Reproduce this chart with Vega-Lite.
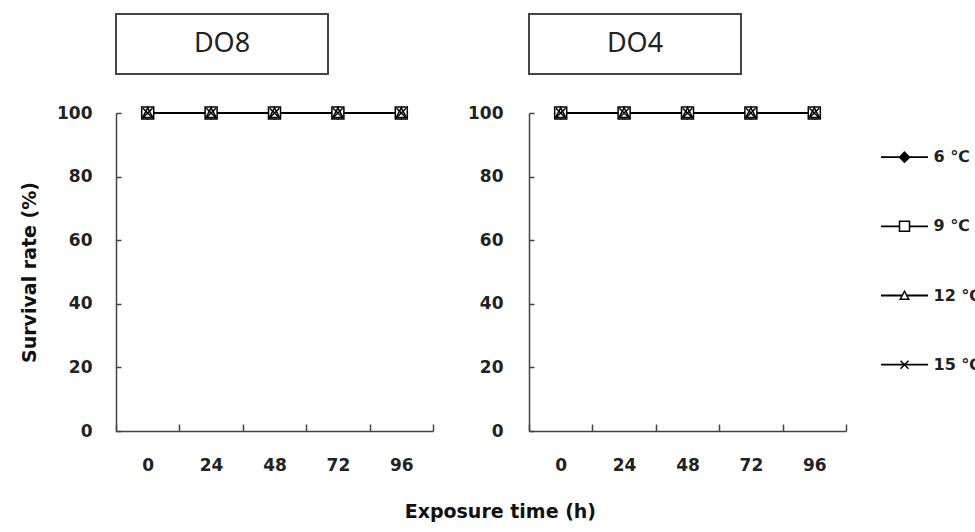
{
  "$schema": "https://vega.github.io/schema/vega-lite/v6.json",
  "padding": {"left": 20, "top": 13, "right": 5, "bottom": 5},
  "background": "white",
  "config": {
    "view": {"stroke": null},
    "font": "DejaVu Sans",
    "axis": {"labelFont": "DejaVu Sans", "labelFontWeight": "bold", "labelFontSize": 17, "labelColor": "#222", "titleFont": "DejaVu Sans", "titleFontWeight": "bold", "titleFontSize": 19, "titleColor": "#111", "domainColor": "#444", "domainWidth": 1.5, "tickColor": "#444", "tickWidth": 1.5, "grid": false}
  },
  "datasets": {
    "d": [
      {"panel": "DO8", "time": 0, "temp": "6 ℃", "survival": 100},
      {"panel": "DO8", "time": 0, "temp": "9 ℃", "survival": 100},
      {"panel": "DO8", "time": 0, "temp": "12 ℃", "survival": 100},
      {"panel": "DO8", "time": 0, "temp": "15 ℃", "survival": 100},
      {"panel": "DO8", "time": 24, "temp": "6 ℃", "survival": 100},
      {"panel": "DO8", "time": 24, "temp": "9 ℃", "survival": 100},
      {"panel": "DO8", "time": 24, "temp": "12 ℃", "survival": 100},
      {"panel": "DO8", "time": 24, "temp": "15 ℃", "survival": 100},
      {"panel": "DO8", "time": 48, "temp": "6 ℃", "survival": 100},
      {"panel": "DO8", "time": 48, "temp": "9 ℃", "survival": 100},
      {"panel": "DO8", "time": 48, "temp": "12 ℃", "survival": 100},
      {"panel": "DO8", "time": 48, "temp": "15 ℃", "survival": 100},
      {"panel": "DO8", "time": 72, "temp": "6 ℃", "survival": 100},
      {"panel": "DO8", "time": 72, "temp": "9 ℃", "survival": 100},
      {"panel": "DO8", "time": 72, "temp": "12 ℃", "survival": 100},
      {"panel": "DO8", "time": 72, "temp": "15 ℃", "survival": 100},
      {"panel": "DO8", "time": 96, "temp": "6 ℃", "survival": 100},
      {"panel": "DO8", "time": 96, "temp": "9 ℃", "survival": 100},
      {"panel": "DO8", "time": 96, "temp": "12 ℃", "survival": 100},
      {"panel": "DO8", "time": 96, "temp": "15 ℃", "survival": 100},
      {"panel": "DO4", "time": 0, "temp": "6 ℃", "survival": 100},
      {"panel": "DO4", "time": 0, "temp": "9 ℃", "survival": 100},
      {"panel": "DO4", "time": 0, "temp": "12 ℃", "survival": 100},
      {"panel": "DO4", "time": 0, "temp": "15 ℃", "survival": 100},
      {"panel": "DO4", "time": 24, "temp": "6 ℃", "survival": 100},
      {"panel": "DO4", "time": 24, "temp": "9 ℃", "survival": 100},
      {"panel": "DO4", "time": 24, "temp": "12 ℃", "survival": 100},
      {"panel": "DO4", "time": 24, "temp": "15 ℃", "survival": 100},
      {"panel": "DO4", "time": 48, "temp": "6 ℃", "survival": 100},
      {"panel": "DO4", "time": 48, "temp": "9 ℃", "survival": 100},
      {"panel": "DO4", "time": 48, "temp": "12 ℃", "survival": 100},
      {"panel": "DO4", "time": 48, "temp": "15 ℃", "survival": 100},
      {"panel": "DO4", "time": 72, "temp": "6 ℃", "survival": 100},
      {"panel": "DO4", "time": 72, "temp": "9 ℃", "survival": 100},
      {"panel": "DO4", "time": 72, "temp": "12 ℃", "survival": 100},
      {"panel": "DO4", "time": 72, "temp": "15 ℃", "survival": 100},
      {"panel": "DO4", "time": 96, "temp": "6 ℃", "survival": 100},
      {"panel": "DO4", "time": 96, "temp": "9 ℃", "survival": 100},
      {"panel": "DO4", "time": 96, "temp": "12 ℃", "survival": 100},
      {"panel": "DO4", "time": 96, "temp": "15 ℃", "survival": 100}
    ]
  },
  "title": {"text": "Exposure time (h)", "orient": "bottom", "anchor": "middle", "font": "DejaVu Sans", "fontSize": 19, "fontWeight": "bold", "color": "#111", "offset": 30},
  "spacing": 33,
  "hconcat": [
    {
      "bounds": "flush",
      "spacing": 39,
      "vconcat": [
        {
          "width": 212, "height": 60,
          "view": {"stroke": "#444", "strokeWidth": 2},
          "data": {"name": "d"},
          "transform": [{"filter": "datum.panel === 'DO8' && datum.time === 0 && datum.temp === '6 ℃'"}],
          "mark": {"type": "text", "font": "Noto Sans", "fontSize": 27, "color": "#222", "align": "center", "baseline": "middle"},
          "encoding": {"text": {"field": "panel"}}
        },
        {
          "width": 317, "height": 318,
          "data": {"name": "d"},
          "transform": [{"filter": "datum.panel === 'DO8'"}],
          "encoding": {
            "x": {"field": "time", "type": "ordinal", "scale": {"type": "band", "paddingInner": 0, "paddingOuter": 0}, "axis": {"title": null, "labelAngle": 0, "tickBand": "extent", "tickSize": -7, "labelPadding": 33}},
            "y": {"field": "survival", "type": "quantitative", "scale": {"domain": [0, 100], "nice": false}, "axis": {"title": "Survival rate (%)", "values": [0, 20, 40, 60, 80, 100], "tickSize": -5, "labelPadding": 29, "titlePadding": 17}}
          },
          "layer": [
            {"mark": {"type": "line", "color": "black", "strokeWidth": 2}, "encoding": {"detail": {"field": "temp"}}},
            {
              "mark": {"type": "point", "filled": false, "size": 144, "strokeWidth": 1.5, "stroke": "black", "opacity": 1},
              "encoding": {
                "shape": {"field": "temp", "type": "nominal",
                  "scale": {"domain": ["6 ℃", "9 ℃", "12 ℃", "15 ℃"], "range": ["M0,-1L1,0L0,1L-1,0Z", "M-1,-1H1V1H-1Z", "M0,-0.85L0.85,0.75H-0.85Z", "M-0.8,-0.8L0.8,0.8M0.8,-0.8L-0.8,0.8"]},
                  "legend": null},
                "fill": {"field": "temp", "type": "nominal", "scale": {"domain": ["6 ℃", "9 ℃", "12 ℃", "15 ℃"], "range": ["black", "white", "white", "transparent"]}, "legend": null}
              }
            }
          ]
        }
      ]
    },
    {
      "bounds": "flush",
      "spacing": 39,
      "vconcat": [
        {
          "width": 212, "height": 60,
          "view": {"stroke": "#444", "strokeWidth": 2},
          "data": {"name": "d"},
          "transform": [{"filter": "datum.panel === 'DO4' && datum.time === 0 && datum.temp === '6 ℃'"}],
          "mark": {"type": "text", "font": "Noto Sans", "fontSize": 27, "color": "#222", "align": "center", "baseline": "middle"},
          "encoding": {"text": {"field": "panel"}}
        },
        {
          "width": 317, "height": 318,
          "data": {"name": "d"},
          "transform": [{"filter": "datum.panel === 'DO4'"}],
          "encoding": {
            "x": {"field": "time", "type": "ordinal", "scale": {"type": "band", "paddingInner": 0, "paddingOuter": 0}, "axis": {"title": null, "labelAngle": 0, "tickBand": "extent", "tickSize": -7, "labelPadding": 33}},
            "y": {"field": "survival", "type": "quantitative", "scale": {"domain": [0, 100], "nice": false}, "axis": {"title": null, "values": [0, 20, 40, 60, 80, 100], "tickSize": -5, "labelPadding": 31}}
          },
          "layer": [
            {"mark": {"type": "line", "color": "black", "strokeWidth": 2}, "encoding": {"detail": {"field": "temp"}}},
            {
              "mark": {"type": "point", "filled": false, "size": 144, "strokeWidth": 1.5, "stroke": "black", "opacity": 1},
              "encoding": {
                "shape": {"field": "temp", "type": "nominal",
                  "scale": {"domain": ["6 ℃", "9 ℃", "12 ℃", "15 ℃"], "range": ["M0,-1L1,0L0,1L-1,0Z", "M-1,-1H1V1H-1Z", "M0,-0.85L0.85,0.75H-0.85Z", "M-0.8,-0.8L0.8,0.8M0.8,-0.8L-0.8,0.8"]},
                  "legend": null},
                "fill": {"field": "temp", "type": "nominal", "scale": {"domain": ["6 ℃", "9 ℃", "12 ℃", "15 ℃"], "range": ["black", "white", "white", "transparent"]}, "legend": null}
              }
            }
          ]
        }
      ]
    },
    {
      "width": 47, "height": 415,
      "data": {"name": "d"},
      "transform": [{"filter": "datum.panel === 'DO8' && datum.time === 0"}],
      "encoding": {
        "y": {"field": "temp", "type": "nominal",
          "scale": {"type": "band", "domain": ["6 ℃", "9 ℃", "12 ℃", "15 ℃"], "paddingInner": 0, "paddingOuter": 2.94, "align": 0.785},
          "axis": {"orient": "right", "title": null, "domain": false, "ticks": false, "labelPadding": 5, "labelFont": "DejaVu Sans", "labelFontSize": 16, "labelFontWeight": "bold", "labelColor": "#222", "labelAlign": "left"}}
      },
      "layer": [
        {"mark": {"type": "rule", "color": "black", "strokeWidth": 1.8}},
        {
          "mark": {"type": "point", "filled": false, "size": 100, "strokeWidth": 1.5, "stroke": "black", "opacity": 1},
          "encoding": {
            "shape": {"field": "temp", "type": "nominal",
              "scale": {"domain": ["6 ℃", "9 ℃", "12 ℃", "15 ℃"], "range": ["M0,-1L1,0L0,1L-1,0Z", "M-1,-1H1V1H-1Z", "M0,-0.85L0.85,0.75H-0.85Z", "M-0.8,-0.8L0.8,0.8M0.8,-0.8L-0.8,0.8"]},
              "legend": null},
            "fill": {"field": "temp", "type": "nominal", "scale": {"domain": ["6 ℃", "9 ℃", "12 ℃", "15 ℃"], "range": ["black", "white", "white", "transparent"]}, "legend": null}
          }
        }
      ]
    }
  ]
}
